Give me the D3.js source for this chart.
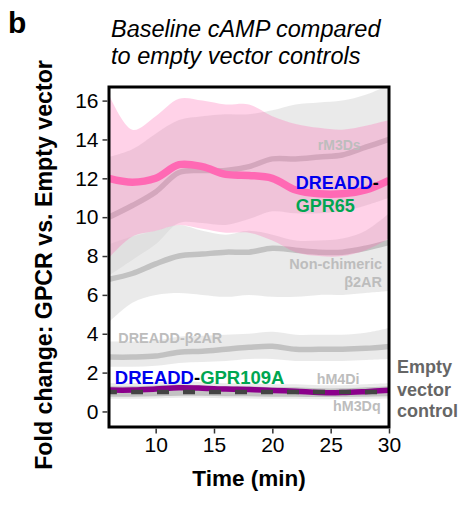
<!DOCTYPE html>
<html>
<head>
<meta charset="utf-8">
<script src="https://cdn.jsdelivr.net/npm/d3@7"></script>
<style>
  body { margin: 0; background: #fff; }
  text { font-family: "Liberation Sans", Arial, sans-serif; }
</style>
</head>
<body>
<script>
// time points (min)
const time = [6, 8, 10, 12, 14, 16, 18, 20, 22, 24, 26, 28, 30];

// mean fold change and ribbon bounds per construct
const gpr65     = [12.0, 11.8, 12.0, 12.7, 12.6, 12.2, 12.15, 12.0, 11.4, 11.2, 11.2, 11.4, 11.9];
const gpr65Hi   = [16.3, 14.5, 15.2, 16.1, 16.0, 15.8, 15.8, 15.2, 14.8, 14.6, 14.5, 14.7, 15.0];
const gpr65Lo   = [7.9, 9.0, 9.3, 9.6, 9.4, 9.2, 9.2, 8.8, 8.2, 8.0, 8.0, 8.3, 8.9];

const rm3ds     = [10.0, 10.6, 11.3, 12.3, 12.4, 12.4, 12.6, 13.0, 13.0, 13.1, 13.2, 13.6, 14.0];
const rm3dsHi   = [13.1, 13.5, 14.3, 15.0, 15.2, 15.3, 15.3, 15.5, 15.8, 15.9, 16.0, 16.3, 16.8];
const rm3dsLo   = [7.0, 7.8, 8.6, 9.7, 9.7, 9.6, 9.9, 10.3, 10.2, 10.2, 10.3, 10.6, 11.0];

const nonchim   = [6.8, 7.1, 7.6, 8.0, 8.1, 8.2, 8.2, 8.4, 8.3, 8.2, 8.2, 8.4, 8.7];
const nonchimHi = [8.6, 9.0, 9.3, 9.6, 9.3, 9.1, 9.3, 9.1, 8.8, 8.8, 8.9, 9.3, 10.2];
const nonchimLo = [4.6, 5.6, 6.0, 6.1, 6.0, 5.9, 6.0, 5.9, 5.9, 6.0, 6.0, 6.1, 6.2];

const db2ar     = [2.8, 2.8, 2.85, 3.05, 3.1, 3.2, 3.3, 3.35, 3.2, 3.2, 3.2, 3.25, 3.35];
const db2arHi   = [3.6, 3.6, 3.65, 3.85, 3.9, 3.95, 4.0, 4.1, 3.95, 3.95, 3.95, 4.05, 4.3];
const db2arLo   = [2.3, 2.3, 2.35, 2.5, 2.55, 2.6, 2.7, 2.7, 2.6, 2.6, 2.6, 2.65, 2.7];

const hm4di     = [1.15, 1.15, 1.2, 1.25, 1.2, 1.15, 1.15, 1.1, 1.1, 1.05, 1.05, 1.1, 1.15];
const hm4diHi   = [1.45, 1.45, 1.5, 1.55, 1.5, 1.45, 1.45, 1.4, 1.4, 1.35, 1.35, 1.4, 1.45];
const hm4diLo   = [0.85, 0.85, 0.9, 0.95, 0.9, 0.85, 0.85, 0.8, 0.8, 0.75, 0.75, 0.8, 0.85];

const hm3dq     = [0.9, 0.9, 0.92, 0.95, 0.95, 0.93, 0.92, 0.9, 0.9, 0.88, 0.88, 0.9, 0.92];
const hm3dqHi   = [1.15, 1.15, 1.17, 1.2, 1.2, 1.18, 1.17, 1.15, 1.15, 1.13, 1.13, 1.15, 1.17];
const hm3dqLo   = [0.65, 0.65, 0.67, 0.7, 0.7, 0.68, 0.67, 0.65, 0.65, 0.63, 0.63, 0.65, 0.67];

const gpr109a   = [1.1, 1.1, 1.15, 1.22, 1.2, 1.15, 1.13, 1.08, 1.04, 0.98, 0.97, 1.02, 1.09];
const emptyVec  = [1, 1, 1, 1, 1, 1, 1, 1, 1, 1, 1, 1, 1];

const yTicks = [0, 2, 4, 6, 8, 10, 12, 14, 16];
const xTicks = [10, 15, 20, 25, 30];

const W = 461, H = 506;
const plot = { left: 109, right: 389, top: 87, bottom: 427 };

const svg = d3.select("body").append("svg")
  .attr("width", W)
  .attr("height", H);

const x = d3.scaleLinear().domain([6, 30]).range([plot.left, plot.right]);
const y = d3.scaleLinear().domain([-0.8, 16.7]).range([plot.bottom, plot.top]);

svg.append("defs").append("clipPath").attr("id", "clip")
  .append("rect")
  .attr("x", plot.left).attr("y", plot.top)
  .attr("width", plot.right - plot.left).attr("height", plot.bottom - plot.top);

const g = svg.append("g").attr("clip-path", "url(#clip)");

const curve = d3.curveCatmullRom.alpha(0.5);

function band(hi, lo) {
  return d3.area()
    .x((d, i) => x(time[i]))
    .y0((d, i) => y(lo[i]))
    .y1((d, i) => y(hi[i]))
    .curve(curve)(time);
}
function line(vals) {
  return d3.line()
    .x((d, i) => x(time[i]))
    .y((d, i) => y(vals[i]))
    .curve(curve)(time);
}

// grey ribbons
[[rm3dsHi, rm3dsLo], [nonchimHi, nonchimLo], [db2arHi, db2arLo], [hm4diHi, hm4diLo], [hm3dqHi, hm3dqLo]]
  .forEach(b => {
    g.append("path").attr("d", band(b[0], b[1]))
      .attr("fill", "#d6d6d6").attr("fill-opacity", 0.5);
  });

// grey lines
[rm3ds, nonchim, db2ar, hm4di, hm3dq].forEach(v => {
  g.append("path").attr("d", line(v))
    .attr("fill", "none").attr("stroke", "#c2c2c2").attr("stroke-width", 5.5);
});

// pink ribbon over the greys
g.append("path").attr("d", band(gpr65Hi, gpr65Lo))
  .attr("fill", "#ff69b4").attr("fill-opacity", 0.3);

g.append("path").attr("d", line(gpr65))
  .attr("fill", "none").attr("stroke", "#ff69b4").attr("stroke-width", 7.5);

g.append("path").attr("d", line(gpr109a))
  .attr("fill", "none").attr("stroke", "#8b008b").attr("stroke-width", 5.5);

g.append("path").attr("d", line(emptyVec))
  .attr("fill", "none").attr("stroke", "#444").attr("stroke-width", 4.5)
  .attr("stroke-dasharray", "12,14").attr("stroke-dashoffset", 4);

// panel border
svg.append("rect")
  .attr("x", plot.left).attr("y", plot.top)
  .attr("width", plot.right - plot.left).attr("height", plot.bottom - plot.top)
  .attr("fill", "none").attr("stroke", "#000").attr("stroke-width", 3);

// axes
const yAxis = svg.append("g")
  .attr("transform", `translate(${plot.left - 1.5},0)`)
  .call(d3.axisLeft(y).tickValues(yTicks).tickSize(5).tickPadding(4));
const xAxis = svg.append("g")
  .attr("transform", `translate(0,${plot.bottom + 1.5})`)
  .call(d3.axisBottom(x).tickValues(xTicks).tickSize(5).tickPadding(4));
[yAxis, xAxis].forEach(a => {
  a.select(".domain").remove();
  a.selectAll(".tick line").attr("stroke", "#333").attr("stroke-width", 1.5);
  a.selectAll(".tick text")
    .attr("fill", "#000")
    .style("font-family", '"Liberation Sans", Arial, sans-serif')
    .style("font-size", "21px");
});

// titles
svg.append("text").attr("x", 8).attr("y", 33)
  .style("font-size", "30px").style("font-weight", "bold").text("b");

const title = svg.append("text").attr("x", 111)
  .style("font-size", "23.5px").style("font-style", "italic");
title.append("tspan").attr("x", 111).attr("y", 37).text("Baseline cAMP compared");
title.append("tspan").attr("x", 111).attr("y", 64).text("to empty vector controls");

svg.append("text")
  .attr("transform", "translate(52,265) rotate(-90)")
  .attr("text-anchor", "middle")
  .style("font-size", "23.2px").style("font-weight", "bold")
  .text("Fold change: GPCR vs. Empty vector");

svg.append("text")
  .attr("x", 249).attr("y", 486)
  .attr("text-anchor", "middle")
  .style("font-size", "22.5px").style("font-weight", "bold")
  .text("Time (min)");

// series labels
const blue = "#0000ee", green = "#00a651", grey = "#bdbdbd";

function label(tx, ty, size, parts, anchor) {
  const t = svg.append("text").attr("x", x(tx)).attr("y", y(ty))
    .attr("text-anchor", anchor || "start")
    .style("font-size", size + "px").style("font-weight", "bold");
  parts.forEach(p => t.append("tspan").attr("fill", p[1]).text(p[0]));
  return t;
}

label(23.9, 13.46, 14, [["rM3Ds", grey]]);
label(22.0, 11.45, 18, [["DREADD", blue], ["-", "#000"]]);
label(22.0, 10.28, 18, [["GPR65", green]]);
label(29.4, 7.33, 14.5, [["Non-chimeric", grey]], "end");
label(29.4, 6.42, 14.5, [["β2AR", grey]], "end");
label(6.8, 3.52, 14.4, [["DREADD-β2AR", grey]]);
label(6.5, 1.41, 18.5, [["DREADD", blue], ["-", "#000"], ["GPR109A", green]]);
label(23.8, 1.41, 14.3, [["hM4Di", grey]]);
label(25.2, 0.04, 14.3, [["hM3Dq", grey]]);

const ev = svg.append("text").style("font-size", "18px").style("font-weight", "bold")
  .attr("fill", "#666");
[["Empty", 373], ["vector", 396], ["control", 417]].forEach(r => {
  ev.append("tspan").attr("x", 397).attr("y", r[1]).text(r[0]);
});
</script>
</body>
</html>
